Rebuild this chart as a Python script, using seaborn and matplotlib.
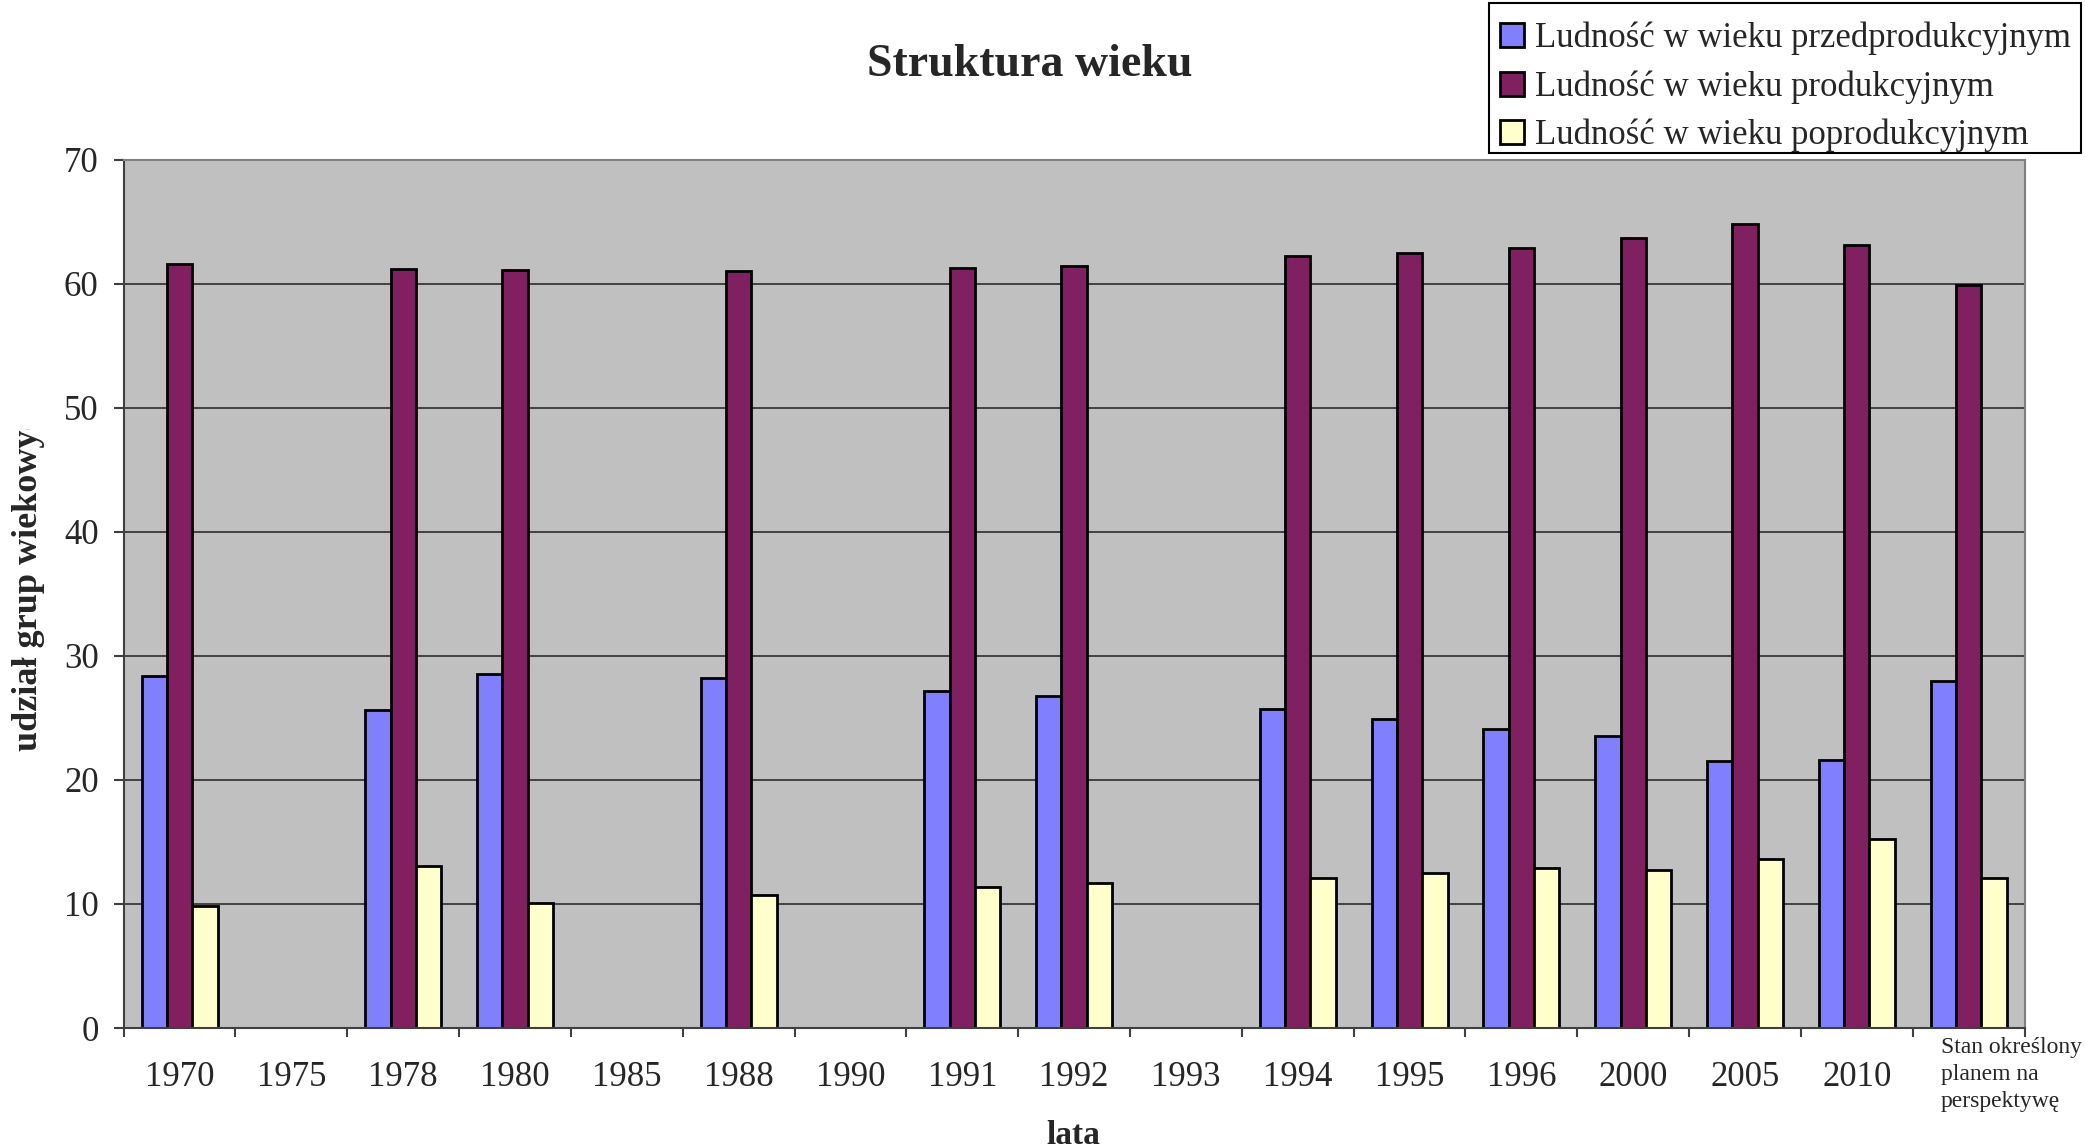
import numpy as np
import pandas as pd
import matplotlib
matplotlib.use('Agg')
import matplotlib.pyplot as plt
import matplotlib.patches as mpatches
from matplotlib.transforms import Bbox, TransformedBbox, ScaledTranslation
import seaborn as sns

# categories (years); some years have no data
lata = ['1970', '1975', '1978', '1980', '1985', '1988', '1990', '1991', '1992',
        '1993', '1994', '1995', '1996', '2000', '2005', '2010',
        'Stan określony\nplanem na\nperspektywę']

grupy = ['Ludność w wieku przedprodukcyjnym',
         'Ludność w wieku produkcyjnym',
         'Ludność w wieku poprodukcyjnym']

nan = np.nan
przedprodukcyjny = [28.4, nan, 25.6, 28.5, nan, 28.2, nan, 27.2, 26.8,
                    nan, 25.7, 24.9, 24.1, 23.5, 21.5, 21.6, 28.0]
produkcyjny = [61.6, nan, 61.2, 61.1, nan, 61.0, nan, 61.3, 61.4,
               nan, 62.2, 62.5, 62.9, 63.7, 64.8, 63.1, 59.9]
poprodukcyjny = [9.8, nan, 13.1, 10.1, nan, 10.7, nan, 11.4, 11.7,
                 nan, 12.1, 12.5, 12.9, 12.7, 13.6, 15.2, 12.1]

kolory = ['#8080FF', '#802060', '#FFFFCC']

# long table, dropping years without data
rows = []
for grupa, vals in zip(grupy, [przedprodukcyjny, produkcyjny, poprodukcyjny]):
    for rok, v in zip(lata, vals):
        if not np.isnan(v):
            rows.append({'lata': rok, 'grupa': grupa, 'udzial': v})
df = pd.DataFrame(rows)

sns.set_style('white')
plt.rcParams['font.family'] = ['Liberation Serif', 'DejaVu Serif']

fig, ax = plt.subplots(figsize=(20.85, 11.48), dpi=100)
fig.subplots_adjust(left=0.0593, right=0.971, top=0.861, bottom=0.1045)

sns.barplot(data=df, x='lata', y='udzial', hue='grupa', order=lata,
            hue_order=grupy, palette=kolory, width=0.68, dodge=True,
            edgecolor='black', linewidth=2, saturation=1, errorbar=None,
            legend=False, ax=ax)

ax.set_facecolor('#C0C0C0')
ax.set_xlim(-0.5, len(lata) - 0.5)
ax.set_ylim(0, 70)
ax.set_yticks(np.arange(0, 71, 10))
ax.grid(axis='y', color='#202020', linewidth=1.1)
ax.set_axisbelow(True)

for side in ['top', 'right']:
    ax.spines[side].set_color('#808080')
    ax.spines[side].set_linewidth(1.5)
for side in ['left', 'bottom']:
    ax.spines[side].set_color('#404040')
    ax.spines[side].set_linewidth(1.5)

# tick marks between categories, labels at centres
ax.set_xticks(np.arange(-0.5, len(lata), 1), minor=True)
ax.tick_params(axis='x', which='major', length=0, pad=23.5, labelsize=25)
ax.tick_params(axis='x', which='minor', length=6.5, width=1.5,
               direction='out', color='#404040', bottom=True)
ax.tick_params(axis='y', which='major', length=7, width=1.5, pad=11,
               labelsize=25, direction='out', color='#404040', left=True)

ax.set_xlabel('')
ax.set_ylabel('')

last = ax.get_xticklabels()[-1]
last.set_fontsize(17)
last.set_ha('left')
last.set_multialignment('left')
last.set_linespacing(1.38)
last.set_transform(last.get_transform() +
                   ScaledTranslation(-0.28, 0.24, fig.dpi_scale_trans))

fig.text(0.494, 0.943, 'Struktura wieku', ha='center', va='center',
         fontsize=33, fontweight='bold')
fig.text(0.515, 0.0035, 'lata', ha='center', va='baseline',
         fontsize=24, fontweight='bold')

ylab = fig.text(0.0139, 0.346, 'udział grup wiekowych', rotation=90,
                ha='center', va='bottom', fontsize=26, fontweight='bold')
ylab.set_clip_box(TransformedBbox(Bbox([[0, 0], [1, 0.626]]), fig.transFigure))
ylab.set_clip_on(True)

# legend entries, with the box drawn separately
handles = [mpatches.Patch(facecolor=c, edgecolor='black', linewidth=2)
           for c in kolory]
fig.legend(handles, grupy, loc='upper right',
           bbox_to_anchor=(0.998, 0.990), borderaxespad=0,
           fontsize=25, frameon=False, borderpad=0.3,
           handlelength=0.7, handleheight=0.7, handletextpad=0.3,
           labelspacing=0.43)
fig.patches.append(mpatches.Rectangle(
    (1489 / 2085, 1 - 153 / 1148), (2081 - 1489) / 2085, 150 / 1148,
    transform=fig.transFigure, facecolor='none', edgecolor='black',
    linewidth=1.5, zorder=5))

fig.savefig('out.png', dpi=100)
